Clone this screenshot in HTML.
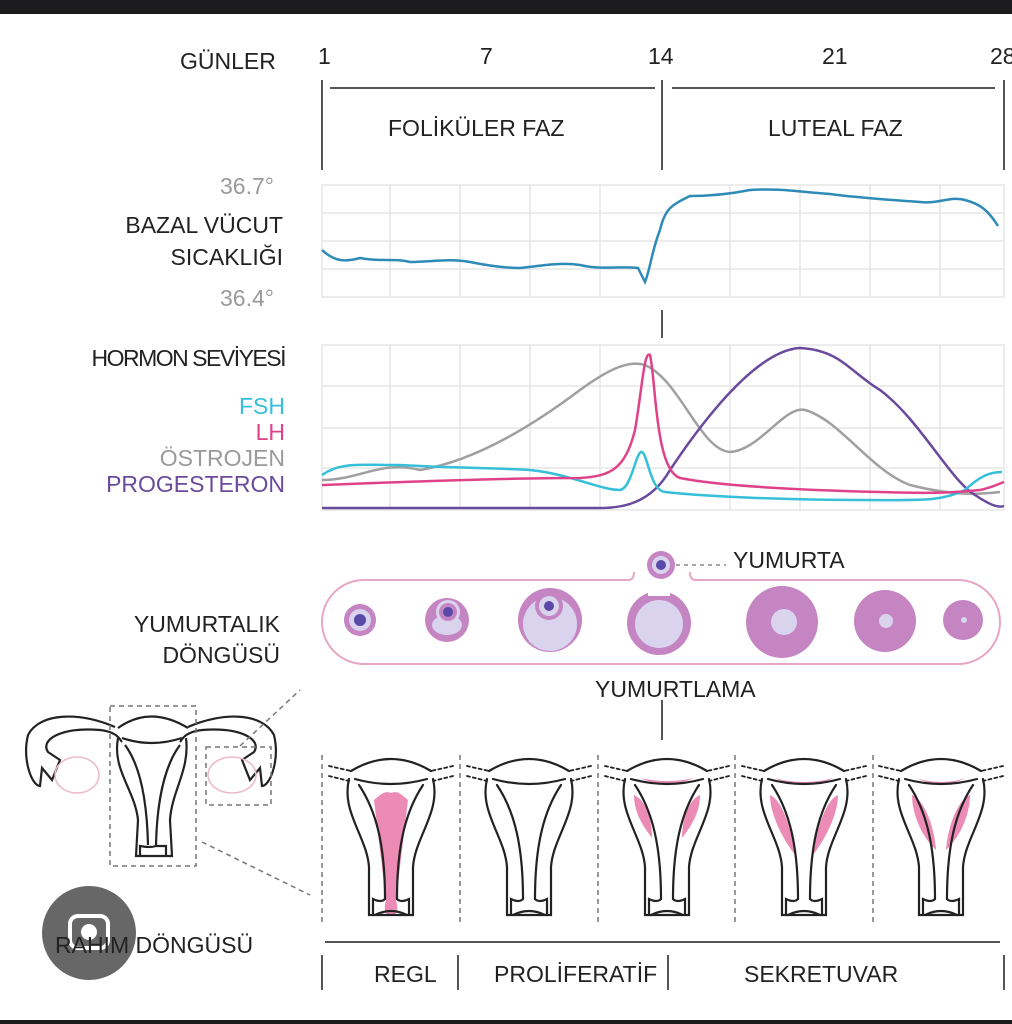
<!DOCTYPE html>
<html><head><meta charset="utf-8"><style>
html,body{margin:0;padding:0;background:#fff;}
svg{display:block;}
text{font-family:"Liberation Sans",sans-serif;}
</style></head><body>
<svg width="1012" height="1024" viewBox="0 0 1012 1024" xmlns="http://www.w3.org/2000/svg">
<defs>
<g id="ut" fill="none" stroke="#222" stroke-width="2.2" stroke-linecap="round">
 <path d="M-40,14 Q0,-10 40,14"/>
 <path d="M-36,22 Q0,32 36,22"/>
 <path d="M-42,22 C-50,55 -24,80 -22,110 L-22,158 L22,158 L22,110 C24,80 50,55 42,22"/>
 <path d="M-32,28 C-14,55 -6,90 -6,142"/>
 <path d="M32,28 C14,55 6,90 6,142"/>
 <path d="M-18,158 L-18,142 Q-10,146 -6,142 M18,158 L18,142 Q10,146 6,142"/>
 <path d="M-16,158 Q0,150 16,158"/>
 <path d="M-62,9 L-40,14 M-62,19 L-42,24 M62,9 L40,14 M62,19 L42,24" stroke-dasharray="3 3" stroke-width="1.8"/>
</g>
</defs>
<rect x="0" y="0" width="1012" height="14" fill="#1c1c1e"/>
<rect x="0" y="1020" width="1012" height="4" fill="#1c1c1e"/>

<g font-size="23" fill="#222">
<text x="180" y="69">GÜNLER</text>
<text x="318" y="64">1</text>
<text x="480" y="64">7</text>
<text x="648" y="64">14</text>
<text x="822" y="64">21</text>
<text x="990" y="64">28</text>
<text x="388" y="136">FOLİKÜLER FAZ</text>
<text x="768" y="136">LUTEAL FAZ</text>
</g>
<g stroke="#555" stroke-width="2">
<line x1="330" y1="88" x2="655" y2="88"/><line x1="672" y1="88" x2="995" y2="88"/>
<line x1="322" y1="80" x2="322" y2="170"/><line x1="662" y1="80" x2="662" y2="170"/><line x1="1004" y1="80" x2="1004" y2="170"/>
<line x1="662" y1="310" x2="662" y2="338"/>
<line x1="662" y1="700" x2="662" y2="740"/>
</g>

<g stroke="#e6e6e6" stroke-width="1.5" fill="none">
<rect x="322" y="185" width="682" height="112"/>
<path d="M322,213H1004M322,241H1004M322,269H1004M390,185V297M460,185V297M530,185V297M600,185V297M730,185V297M800,185V297M870,185V297M940,185V297"/>
</g>
<path d="M322,250 C335,262 345,262 360,258 C380,262 395,258 410,262 C430,262 450,258 470,262 C490,266 505,268 520,268 C540,266 560,262 580,265 C600,270 620,266 638,268 L645,282 C650,270 652,250 660,230 C665,208 672,205 690,196 C710,196 730,194 750,190 C780,188 800,192 830,194 C860,198 890,200 920,202 C940,204 950,196 965,200 C980,204 988,210 998,226" fill="none" stroke="#2e8bb7" stroke-width="2.5"/>
<g font-size="23">
<text x="220" y="194" fill="#999">36.7°</text>
<text x="220" y="306" fill="#999">36.4°</text>
<text x="283" y="233" fill="#222" text-anchor="end">BAZAL VÜCUT</text>
<text x="283" y="265" fill="#222" text-anchor="end">SICAKLIĞI</text>
<text x="285" y="366" fill="#222" text-anchor="end" letter-spacing="-1.5">HORMON SEVİYESİ</text>
<text x="285" y="414" fill="#35bfd9" text-anchor="end">FSH</text>
<text x="285" y="440" fill="#e0428a" text-anchor="end">LH</text>
<text x="285" y="466" fill="#9a9a9a" text-anchor="end">ÖSTROJEN</text>
<text x="285" y="492" fill="#6a4a9c" text-anchor="end">PROGESTERON</text>
</g>

<g stroke="#e6e6e6" stroke-width="1.5" fill="none">
<rect x="322" y="345" width="682" height="165"/>
<path d="M322,386H1004M322,428H1004M322,468H1004M390,345V510M460,345V510M530,345V510M600,345V510M730,345V510M800,345V510M870,345V510M940,345V510"/>
</g>
<g fill="none" stroke-width="2.5">
<path d="M322,480 C360,480 380,460 420,470 C480,460 540,420 580,390 C610,368 630,360 645,365 C680,380 700,450 730,452 C760,450 785,405 805,410 C840,420 870,470 910,485 C950,495 975,495 1000,492" stroke="#a0a0a0"/>
<path d="M322,508 L600,508 C620,508 650,505 670,470 C710,410 760,350 800,348 C840,350 850,372 880,390 C920,420 950,480 975,495 C990,505 998,508 1004,506" stroke="#6a4a9c"/>
<path d="M322,475 C340,462 360,465 400,465 C450,468 500,468 530,470 C570,474 600,490 620,490 C632,488 636,450 642,452 C648,455 650,490 665,492 C700,496 780,500 860,500 C920,500 940,502 965,490 C980,476 990,472 1002,472" stroke="#35bfd9"/>
<path d="M322,485 C400,482 500,478 580,478 C610,476 625,470 635,430 C642,390 644,350 650,355 C656,380 655,470 680,478 C720,486 800,490 880,492 C940,494 960,492 980,490 C990,488 996,485 1004,482" stroke="#e0428a"/>
</g>

<text x="733" y="568" font-size="23" fill="#222">YUMURTA</text>
<line x1="676" y1="565" x2="726" y2="565" stroke="#888" stroke-width="1.5" stroke-dasharray="4 4"/>
<path d="M628,580 L364,580 A42,42 0 0 0 364,664 L958,664 A42,42 0 0 0 958,580 L696,580 Q690,580 690,572" fill="none" stroke="#e7a6c3" stroke-width="2"/>
<path d="M628,580 Q634,580 634,572" fill="none" stroke="#e7a6c3" stroke-width="2"/>
<circle cx="661" cy="565" r="14" fill="#c584c2"/><circle cx="661" cy="565" r="9" fill="#d9d3ee"/><circle cx="661" cy="565" r="5" fill="#5a4aa8"/>
<circle cx="360" cy="620" r="16" fill="#c584c2"/><circle cx="360" cy="620" r="11" fill="#d9d3ee"/><circle cx="360" cy="620" r="6" fill="#5a4aa8"/>
<circle cx="447" cy="620" r="22" fill="#c584c2"/><ellipse cx="447" cy="625" rx="15" ry="10" fill="#d9d3ee"/><circle cx="448" cy="612" r="12" fill="#d9d3ee"/><circle cx="448" cy="612" r="9" fill="#c584c2"/><circle cx="448" cy="612" r="5" fill="#5a4aa8"/>
<circle cx="550" cy="620" r="32" fill="#c584c2"/><circle cx="550" cy="624" r="27" fill="#d9d3ee"/><circle cx="549" cy="606" r="14" fill="#c584c2"/><circle cx="549" cy="606" r="10" fill="#d9d3ee"/><circle cx="549" cy="606" r="5" fill="#5a4aa8"/>
<circle cx="659" cy="623" r="32" fill="#c584c2"/><circle cx="659" cy="624" r="24" fill="#d9d3ee"/><rect x="648" y="586" width="22" height="10" fill="#fff"/>
<circle cx="782" cy="622" r="36" fill="#c584c2"/><circle cx="784" cy="622" r="13" fill="#d9d3ee"/>
<circle cx="885" cy="621" r="31" fill="#c584c2"/><circle cx="886" cy="621" r="7" fill="#d9d3ee"/>
<circle cx="963" cy="620" r="20" fill="#c584c2"/><circle cx="964" cy="620" r="3" fill="#d9d3ee"/>
<g font-size="23" fill="#222">
<text x="280" y="632" text-anchor="end">YUMURTALIK</text>
<text x="280" y="663" text-anchor="end">DÖNGÜSÜ</text>
<text x="595" y="697">YUMURTLAMA</text>
</g>

<g fill="none" stroke="#222" stroke-width="2.2">
<path d="M115,727 C80,712 40,712 28,735 C22,760 32,786 40,786 L42,768 L52,780 L60,760 L48,752 C40,740 60,727 100,730 C118,732 120,740 122,742"/>
<path d="M188,727 C222,712 262,712 274,735 C280,760 270,786 262,786 L260,768 L250,780 L242,760 L254,752 C262,740 242,727 202,730 C184,732 182,740 180,742"/>
<path d="M118,728 Q150,705 188,728"/><path d="M122,738 Q151,748 182,738"/>
<path d="M118,738 C112,770 135,790 138,820 L136,856 L172,856 L170,820 C172,790 190,770 186,738"/>
<path d="M125,745 C140,765 147,800 148,845 M180,745 C165,765 157,800 156,845 M140,857 L140,846 Q150,848 156,846 L166,846 L166,857"/>
</g>
<ellipse cx="77" cy="775" rx="22" ry="18" fill="none" stroke="#eeb8cc" stroke-width="1.5"/>
<ellipse cx="232" cy="775" rx="24" ry="18" fill="none" stroke="#eeb8cc" stroke-width="1.5"/>
<g fill="none" stroke="#777" stroke-width="1.5" stroke-dasharray="5 4">
<rect x="110" y="706" width="86" height="160"/>
<rect x="206" y="747" width="65" height="58"/>
<path d="M240,746 L300,690"/><path d="M202,842 L310,895"/>
<path d="M322,755V925M460,755V925M598,755V925M735,755V925M873,755V925"/>
</g>

<path d="M374,800 C380,795 385,790 391,793 C398,790 402,795 408,800 L402,850 L396,900 Q400,915 391,916 Q382,915 386,900 L380,850 Z" fill="#ec8cb6"/>
<g fill="#ec8cb6">
<path d="M640,778 Q667,790 694,778 Q667,784 640,778Z"/>
<path d="M634,795 C646,800 652,820 652,838 C642,825 634,812 634,795Z"/>
<path d="M700,795 C688,800 682,820 682,838 C692,825 700,812 700,795Z"/>
<path d="M774,778 Q804,792 834,778 Q804,786 774,778Z"/>
<path d="M770,795 C782,800 792,830 795,855 C780,835 770,812 770,795Z"/>
<path d="M838,795 C826,800 816,830 813,855 C828,835 838,812 838,795Z"/>
<path d="M916,778 Q941,790 966,778 Q941,786 916,778Z"/>
<path d="M912,795 C925,800 935,830 936,850 C920,835 912,812 912,795Z"/>
<path d="M970,795 C957,800 947,830 946,850 C962,835 970,812 970,795Z"/>
</g>
<use href="#ut" x="391" y="757"/>
<use href="#ut" x="529" y="757"/>
<use href="#ut" x="667" y="757"/>
<use href="#ut" x="804" y="757"/>
<use href="#ut" x="941" y="757"/>

<g stroke="#555" stroke-width="2">
<line x1="325" y1="942" x2="1000" y2="942"/>
<line x1="322" y1="955" x2="322" y2="990"/><line x1="458" y1="955" x2="458" y2="990"/><line x1="668" y1="955" x2="668" y2="990"/><line x1="1004" y1="955" x2="1004" y2="990"/>
</g>
<g font-size="23" fill="#222">
<text x="374" y="982">REGL</text>
<text x="494" y="982">PROLİFERATİF</text>
<text x="744" y="982">SEKRETUVAR</text>
</g>
<circle cx="89" cy="933" r="47" fill="#5f5f5f" opacity="0.95"/>
<rect x="70" y="916" width="38" height="32" rx="8" fill="none" stroke="#fff" stroke-width="4"/>
<circle cx="89" cy="932" r="8" fill="#fff"/>
<text x="55" y="953" font-size="23" fill="#222">RAHIM DÖNGÜSÜ</text>
</svg>
</body></html>
